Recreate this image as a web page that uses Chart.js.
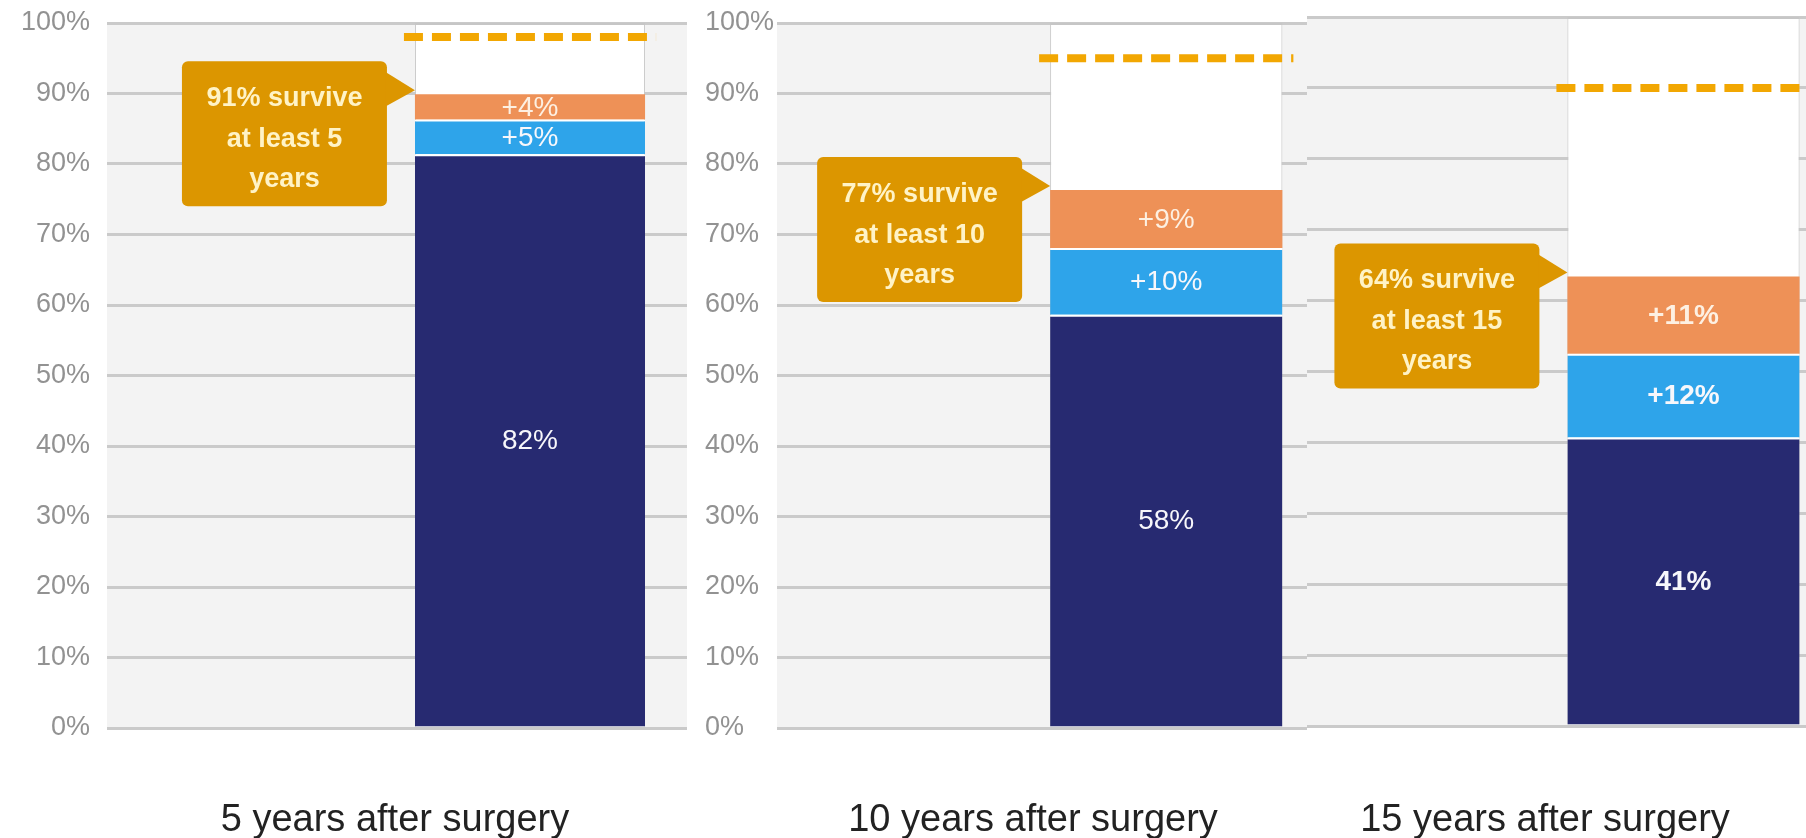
<!DOCTYPE html>
<html>
<head>
<meta charset="utf-8">
<script src="https://cdn.jsdelivr.net/npm/chart.js@4.4.1/dist/chart.umd.min.js"></script>
<style>
html,body{margin:0;padding:0;background:#fff;width:1806px;height:838px;overflow:hidden}
canvas{position:absolute;top:0}
.cat{position:absolute;top:799px;font:38px "Liberation Sans",Arial,sans-serif;line-height:38px;color:#222;white-space:nowrap;transform:translateX(-50%)}
</style>
</head>
<body>
<canvas id="c0"></canvas>
<canvas id="c1"></canvas>
<canvas id="c2"></canvas>
<div class="cat" id="l0"></div>
<div class="cat" id="l1"></div>
<div class="cat" id="l2"></div>
<script>
// data
const categories = ['5 years after surgery', '10 years after surgery', '15 years after surgery'];
const yearsAfter = [5, 10, 15];
const baseValues = [81.4, 58.6, 40.7];
const firstGain = [4.9, 9.5, 11.8];
const secondGain = [3.6, 8.2, 10.9];
const baseText = ['82%', '58%', '41%'];
const firstText = ['+5%', '+10%', '+12%'];
const secondText = ['+4%', '+9%', '+11%'];
const survivalTotals = [91, 77, 64];
const expectedSurvival = [98, 95, 90];
const yTickStep = 10;

const NAVY = '#272a71', BLUE = '#2ea4ea', ORANGE = '#ee9157';
const GRID = '#cacaca', PLOT_BG = '#f3f3f3', TICK = '#929292';
const FONT = '"Liberation Sans", Arial, sans-serif';

// layout of the three stitched panels
const panels = [
  {left:0,    width:687, axisW:107, padL:0,  extW:16, top:23, bottom:728, align:'near', ticks:true,  barPct:0.816, catX:395,  bold:false},
  {left:690,  width:617, axisW:72,  padL:15, extW:11, top:23, bottom:728, align:'far',  ticks:true,  barPct:0.895, catX:1033, bold:false},
  {left:1307, width:502, axisW:0,   padL:0,  extW:0,  top:17, bottom:726, align:'near', ticks:false, barPct:0.925, catX:1545, bold:true}
];

const plotBackground = {
  id:'plotBackground',
  beforeDraw(chart, args, opts){
    const {ctx, chartArea, scales} = chart;
    const y = scales.y;
    ctx.save();
    ctx.fillStyle = PLOT_BG;
    ctx.fillRect(chartArea.left, y.getPixelForValue(100), chartArea.right - chartArea.left + opts.ext, y.getPixelForValue(0) - y.getPixelForValue(100));
    ctx.restore();
  }
};

const annotations = {
  id:'annotations',
  afterDatasetsDraw(chart, args, opts){
    const {ctx, scales} = chart;
    const i = opts.index;
    ctx.save();

    // segment labels
    const texts = [baseText[i], firstText[i], secondText[i]];
    ctx.textAlign = 'center';
    ctx.textBaseline = 'middle';
    ctx.font = (opts.bold ? 'bold ' : '') + '28px ' + FONT;
    for(let d = 0; d < 3; d++){
      const el = chart.getDatasetMeta(d).data[1];
      ctx.fillStyle = d == 2 ? '#fdf0e2' : '#f7f7fb';
      ctx.fillText(texts[d], el.x, (el.y + el.base) / 2 + 1);
    }

    // expected survival dashed line
    const col = chart.getDatasetMeta(3).data[1];
    const ey = scales.y.getPixelForValue(expectedSurvival[i]);
    ctx.beginPath();
    ctx.setLineDash([19, 9]);
    ctx.lineWidth = 8;
    ctx.strokeStyle = '#f2a702';
    ctx.moveTo(col.x - col.width / 2 - 11, ey);
    ctx.lineTo(col.x + col.width / 2 + 11, ey);
    ctx.stroke();
    ctx.setLineDash([]);

    // callout pointing at the top of the bar
    const topEl = chart.getDatasetMeta(2).data[1];
    const tipX = topEl.x - topEl.width / 2, tipY = topEl.y - 4;
    const x1 = tipX - 28, x0 = x1 - 205, y0 = tipY - 29, h = 145;
    ctx.fillStyle = '#dc9600';
    ctx.beginPath();
    ctx.roundRect(x0, y0, x1 - x0, h, 6);
    ctx.fill();
    ctx.beginPath();
    ctx.moveTo(x1 - 1, y0 + 11);
    ctx.lineTo(tipX, tipY);
    ctx.lineTo(x1 - 1, y0 + 45);
    ctx.closePath();
    ctx.fill();
    ctx.fillStyle = '#fff3c6';
    ctx.font = 'bold 27px ' + FONT;
    const lines = [survivalTotals[i] + '% survive', 'at least ' + yearsAfter[i], 'years'];
    const cx = (x0 + x1) / 2;
    [37, 78, 118].forEach((dy, k) => ctx.fillText(lines[k], cx, y0 + dy));
    ctx.restore();
  }
};

panels.forEach((p, i) => {
  const canvas = document.getElementById('c' + i);
  canvas.width = p.width;
  canvas.height = 838;
  canvas.style.left = p.left + 'px';

  const seg = (label, value, color, order, sep) => ({
    label, data:[null, value], backgroundColor:color, stack:'s', order,
    borderColor:'#ffffff', borderWidth:{top:sep, left:0, right:0, bottom:0}
  });

  new Chart(canvas, {
    type:'bar',
    data:{
      labels:['', categories[i]],
      datasets:[
        seg('Base survival', baseValues[i], NAVY, 1, 2),
        seg('First gain', firstGain[i], BLUE, 2, 2),
        seg('Second gain', secondGain[i], ORANGE, 3, 0),
        {label:'Scale', data:[null, 100], backgroundColor:'#ffffff', stack:'bg', grouped:false, order:10,
         borderColor:'#c6c6c6', borderWidth:{top:2, left:1, right:1, bottom:0}}
      ]
    },
    options:{
      responsive:false, animation:false,
      layout:{padding:{left:p.padL, right:0, top:p.top, bottom:838 - p.bottom}},
      datasets:{bar:{categoryPercentage:p.barPct, barPercentage:1}},
      plugins:{
        legend:{display:false}, tooltip:{enabled:false},
        plotBackground:{ext:p.extW},
        annotations:{index:i, bold:p.bold}
      },
      scales:{
        x:{display:false, stacked:true},
        y:{
          stacked:true, min:0, max:100,
          border:{display:false},
          grid:{color:GRID, lineWidth:3, drawTicks:false},
          ticks:{display:p.ticks, stepSize:yTickStep, callback:v => v + '%', color:TICK,
                 font:{family:FONT, size:27}, padding:17, crossAlign:p.align},
          afterFit:s => { s.width = p.axisW; s.paddingTop = 0; s.paddingBottom = 0; }
        },
        y2:{
          display:p.extW > 0, position:'right', min:0, max:100,
          border:{display:false},
          grid:{drawOnChartArea:false, drawTicks:true, tickLength:p.extW, color:GRID, lineWidth:3},
          ticks:{display:false, stepSize:yTickStep},
          afterFit:s => { s.width = p.extW; s.paddingTop = 0; s.paddingBottom = 0; }
        }
      }
    },
    plugins:[plotBackground, annotations]
  });

  const lab = document.getElementById('l' + i);
  lab.textContent = categories[i];
  lab.style.left = p.catX + 'px';
});
</script>
</body>
</html>
